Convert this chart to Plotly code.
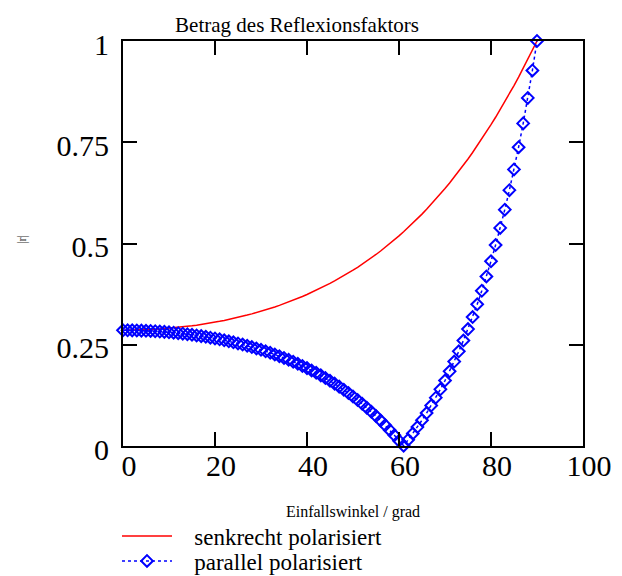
import plotly.graph_objects as go

angle_deg = list(range(0, 91))

r_senkrecht = [
    0.2857, 0.2858, 0.2859, 0.2862, 0.2865, 0.2869, 0.2875, 0.2881, 0.2888, 0.2897,
    0.2906, 0.2916, 0.2928, 0.2940, 0.2954, 0.2968, 0.2984, 0.3000, 0.3018, 0.3037,
    0.3057, 0.3078, 0.3101, 0.3124, 0.3149, 0.3175, 0.3203, 0.3232, 0.3262, 0.3293,
    0.3326, 0.3360, 0.3396, 0.3433, 0.3472, 0.3513, 0.3555, 0.3598, 0.3644, 0.3691,
    0.3740, 0.3791, 0.3843, 0.3898, 0.3955, 0.4014, 0.4075, 0.4138, 0.4203, 0.4271,
    0.4341, 0.4413, 0.4488, 0.4566, 0.4646, 0.4729, 0.4815, 0.4904, 0.4995, 0.5090,
    0.5188, 0.5289, 0.5393, 0.5501, 0.5612, 0.5726, 0.5845, 0.5967, 0.6093, 0.6222,
    0.6356, 0.6494, 0.6636, 0.6782, 0.6933, 0.7088, 0.7248, 0.7412, 0.7581, 0.7755,
    0.7933, 0.8117, 0.8305, 0.8499, 0.8697, 0.8901, 0.9110, 0.9325, 0.9544, 0.9770,
    1.0000,
]

r_parallel = [
    0.2857, 0.2857, 0.2855, 0.2853, 0.2849, 0.2845, 0.2840, 0.2833, 0.2826, 0.2818,
    0.2808, 0.2798, 0.2786, 0.2774, 0.2760, 0.2746, 0.2730, 0.2713, 0.2695, 0.2675,
    0.2655, 0.2633, 0.2610, 0.2585, 0.2560, 0.2533, 0.2504, 0.2474, 0.2442, 0.2409,
    0.2374, 0.2338, 0.2300, 0.2260, 0.2218, 0.2174, 0.2128, 0.2080, 0.2030, 0.1978,
    0.1923, 0.1866, 0.1806, 0.1744, 0.1679, 0.1611, 0.1540, 0.1466, 0.1388, 0.1307,
    0.1223, 0.1134, 0.1042, 0.0945, 0.0844, 0.0738, 0.0628, 0.0512, 0.0391, 0.0264,
    0.0131, 0.0008, 0.0154, 0.0307, 0.0467, 0.0636, 0.0813, 0.0999, 0.1194, 0.1399,
    0.1616, 0.1843, 0.2084, 0.2337, 0.2604, 0.2886, 0.3184, 0.3499, 0.3833, 0.4187,
    0.4562, 0.4961, 0.5385, 0.5836, 0.6317, 0.6830, 0.7378, 0.7966, 0.8595, 0.9272,
    1.0000,
]

x_ticks = [0, 20, 40, 60, 80, 100]
y_ticks = [0, 0.25, 0.5, 0.75, 1]
y_tick_labels = ["0", "0.25", "0.5", "0.75", "1"]

FONT = "Liberation Serif, Times New Roman, serif"
PAD = "\u00a0\u00a0\u00a0"

fig = go.Figure()
fig.add_trace(go.Scatter(
    x=angle_deg, y=r_senkrecht, mode="lines", name=PAD + "senkrecht polarisiert",
    line=dict(color="#ff0000", width=1.5), cliponaxis=False, legend="legend",
))
fig.add_trace(go.Scatter(
    x=angle_deg, y=r_parallel, mode="lines+markers", name=PAD + "parallel polarisiert",
    line=dict(color="#0000ff", width=1.5, dash="dot"),
    marker=dict(symbol="diamond-open", size=9, color="#0000ff",
                line=dict(color="#0000ff", width=2)),
    cliponaxis=False, legend="legend2",
))

legend_common = dict(xanchor="left", xref="container", yanchor="middle",
                     yref="container",
                     font=dict(size=23, family=FONT, color="black"),
                     itemwidth=50, bgcolor="rgba(0,0,0,0)", borderwidth=0)

fig.update_layout(
    width=622, height=576,
    margin=dict(l=123, r=39, t=41, b=130, autoexpand=False),
    paper_bgcolor="white", plot_bgcolor="white",
    font=dict(family=FONT, color="black"),
    title=dict(text="Betrag des Reflexionsfaktors", x=297/622, xanchor="center",
               y=1 - 25/576, yanchor="middle", yref="container",
               font=dict(size=21, family=FONT, color="black")),
    xaxis=dict(range=[0, 100], tickvals=x_ticks, ticks="inside", ticklen=14,
               tickwidth=1.5, tickcolor="black", showline=True, linecolor="black",
               linewidth=2, mirror="ticks", showgrid=False, zeroline=False,
               automargin=False,
               tickfont=dict(size=30, family=FONT, color="black"),
               ticklabelshift=6, ticklabelstandoff=-8,
               title=dict(text="Einfallswinkel / grad", standoff=25,
                          font=dict(size=16, family=FONT, color="black"))),
    yaxis=dict(range=[0, 1], tickvals=y_ticks, ticktext=y_tick_labels,
               ticks="inside", ticklen=14, tickwidth=1.5, tickcolor="black",
               showline=True, linecolor="black", linewidth=2, mirror="ticks",
               showgrid=False, zeroline=False, ticklabelstandoff=6,
               ticklabelshift=3,
               automargin=False,
               tickfont=dict(size=30, family=FONT, color="black")),
    legend=dict(x=117/622, y=1 - 536/576, **legend_common),
    legend2=dict(x=117/622, y=1 - 561/576, **legend_common),
    annotations=[dict(text="|r|", x=(22 - 123) / 460, y=(446 - 240) / 405,
                      xref="paper", yref="paper", showarrow=False, textangle=-90,
                      xanchor="center", yanchor="middle",
                      font=dict(size=12, family=FONT, color="#333333"))],
    showlegend=True,
)

fig.write_html("out.html")
